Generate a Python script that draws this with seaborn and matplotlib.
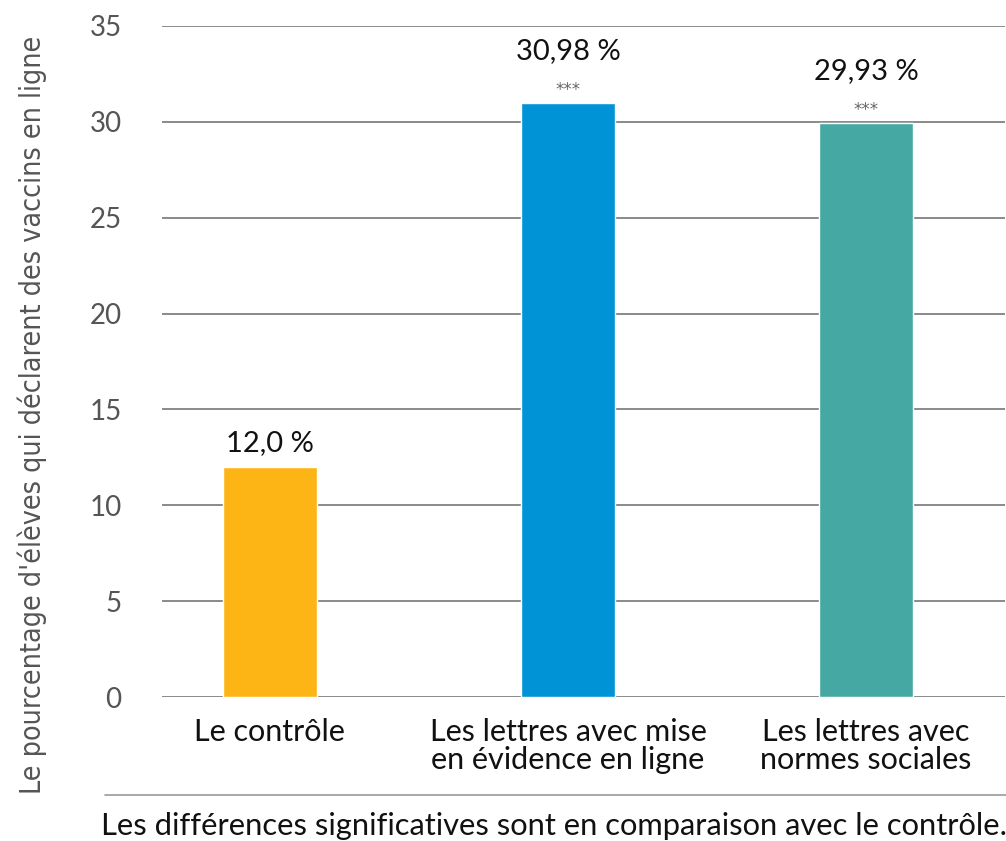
import matplotlib
matplotlib.use("Agg")
import matplotlib.pyplot as plt
import seaborn as sns
import pandas as pd

categories = ["Le contrôle",
              "Les lettres avec mise\nen évidence en ligne",
              "Les lettres avec\nnormes sociales"]
values = [12.0, 30.98, 29.93]
decimals = [1, 2, 2]
significance = ["", "***", "***"]
colors = ["#FDB515", "#0093D6", "#46A8A2"]
yticks = [0, 5, 10, 15, 20, 25, 30, 35]

ylabel = "Le pourcentage d'élèves qui déclarent des vaccins en ligne"
footnote = "Les différences significatives sont en comparaison avec le contrôle."

sns.set_theme(style="white")
plt.rcParams["font.family"] = ["Lato", "DejaVu Sans"]

df = pd.DataFrame({"groupe": categories, "valeur": values})

fig = plt.figure(figsize=(10.06, 8.41), dpi=100)
ax = fig.add_axes([0.161, 0.1712, 0.838, 0.7979])

sns.barplot(data=df, x="groupe", y="valeur", hue="groupe", palette=colors,
            width=0.315, legend=False, ax=ax, saturation=1, zorder=3)

ax.set_ylim(0, 35)
ax.set_xlim(-0.362, 2.466)
ax.set_yticks(yticks)
ax.set_yticklabels([str(t) for t in yticks], fontsize=20, color="#555555")
ax.tick_params(axis="y", length=0, pad=29)
ax.tick_params(axis="x", length=0, pad=15)
ax.set_xticks(range(len(categories)))
ax.set_xticklabels(categories, fontsize=22, color="#111111", linespacing=1.0)
ax.yaxis.grid(True, color="#8a8a8a", linewidth=1.4, zorder=0)
ax.set_axisbelow(True)
for s in ax.spines.values():
    s.set_visible(False)
ax.set_xlabel("")
ax.set_ylabel("")

for i, (v, d, sig) in enumerate(zip(values, decimals, significance)):
    txt = f"{v:.{d}f}".replace(".", ",") + " %"
    if sig:
        ax.annotate(sig, (i, v), xytext=(0, 3), textcoords="offset points",
                    ha="center", va="bottom", fontsize=12, color="#666666",
                    family=["DejaVu Sans"])
        ax.annotate(txt, (i, v), xytext=(0, 28), textcoords="offset points",
                    ha="center", va="bottom", fontsize=21, color="#111111")
    else:
        ax.annotate(txt, (i, v), xytext=(0, 8), textcoords="offset points",
                    ha="center", va="bottom", fontsize=21, color="#111111")

fig.text(0.032, 0.507, ylabel, rotation=90, ha="center", va="center",
         fontsize=20.5, color="#555555", fontstretch="condensed",
         family=["DejaVu Sans"])

fig.add_artist(plt.Line2D([105 / 1006, 1.0], [1 - 795 / 841, 1 - 795 / 841],
                          color="#9a9a9a", linewidth=1.2))
fig.text(554 / 1006, 1 - 826 / 841, footnote, ha="center", va="center",
         fontsize=22.2, color="#111111")

fig.savefig("out.png", dpi=100)
